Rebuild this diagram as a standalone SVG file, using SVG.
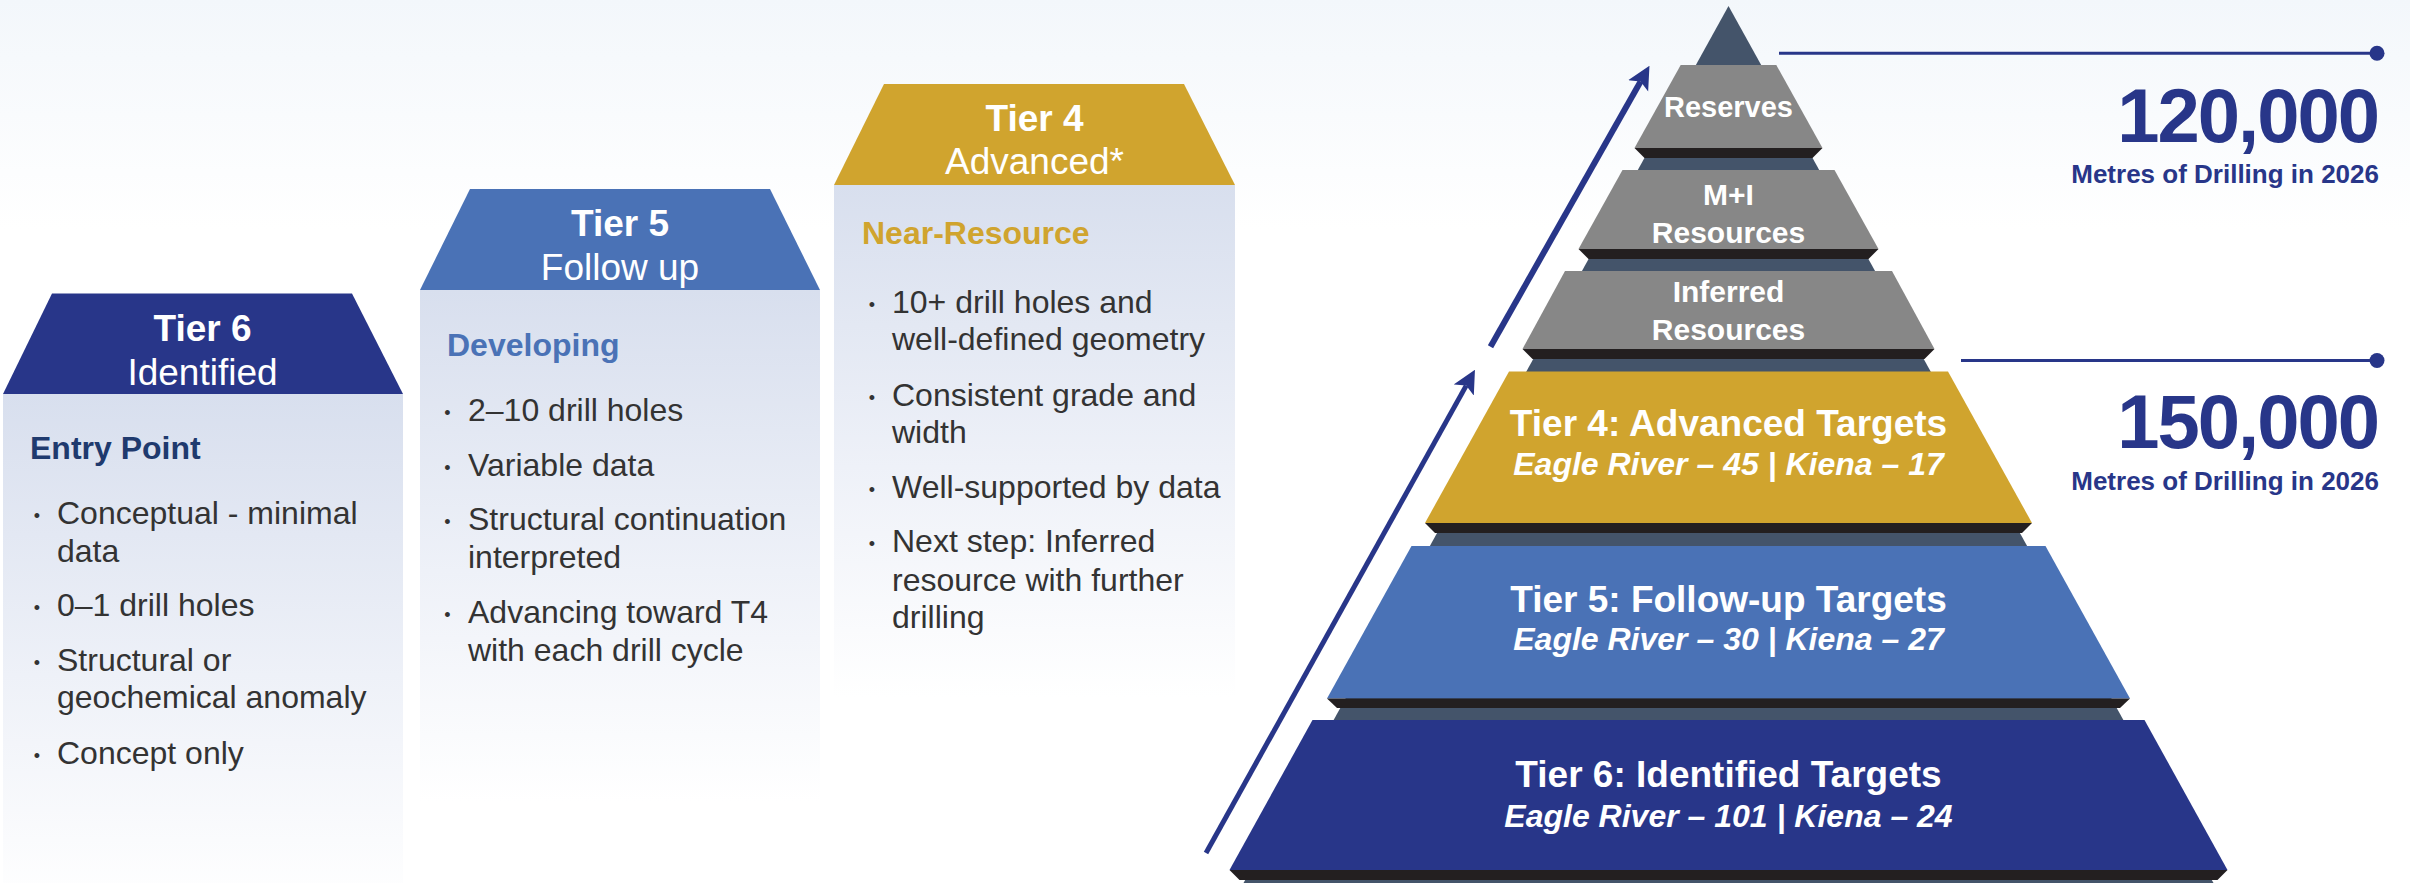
<svg xmlns="http://www.w3.org/2000/svg" width="2410" height="883" viewBox="0 0 2410 883">
<defs>
<linearGradient id="bg" x1="0" y1="0" x2="0" y2="883" gradientUnits="userSpaceOnUse">
<stop offset="0" stop-color="#f3f7fb"/>
<stop offset="0.26" stop-color="#ffffff"/>
<stop offset="1" stop-color="#ffffff"/>
</linearGradient>
<linearGradient id="card" x1="0" y1="0" x2="0" y2="1">
<stop offset="0" stop-color="#d8dfee"/>
<stop offset="0.55" stop-color="#eef1f8"/>
<stop offset="1" stop-color="#ffffff"/>
</linearGradient>
<marker id="arr" markerUnits="userSpaceOnUse" viewBox="0 -12 23 24" markerWidth="23" markerHeight="24" refX="5" refY="0" orient="auto">
<path d="M23,0 L0,-11.5 L5,0 L0,11.5 Z" fill="#283689"/>
</marker>
<marker id="dot" markerUnits="userSpaceOnUse" viewBox="-8 -8 16 16" markerWidth="16" markerHeight="16" refX="0" refY="0">
<circle cx="0" cy="0" r="7.5" fill="#283689"/>
</marker>
</defs>
<style>
text{font-family:"Liberation Sans",Arial,Helvetica,sans-serif}
.ttl{font-size:37px;font-weight:bold;fill:#fff;text-anchor:middle}
.sub{font-size:37px;fill:#fff;text-anchor:middle}
.hd{font-size:32px;font-weight:bold}
.li{font-size:32px;fill:#333333}
.bu{font-size:18px;fill:#333333;text-anchor:middle}
.body{fill:url(#card)}
.lay{stroke:none}
.gray{fill:#878787}
.band{fill:#231f20}
.pt{fill:#fff;font-weight:bold;text-anchor:middle}
.pt29{font-size:29px}
.pt30{font-size:30px}
.pt37{font-size:37px}
.pti{font-size:32px;font-style:italic}
.big{font-size:76px;font-weight:bold;fill:#283689;text-anchor:end;letter-spacing:-2px}
.cap{font-size:26px;font-weight:bold;fill:#283689;text-anchor:end}
.conn{stroke:#283689;fill:none}
</style>
<rect x="0" y="0" width="2410" height="883" fill="url(#bg)"/>

<g id="card-tier6">
<rect class="body" x="3" y="394" width="400" height="512"/>
<polygon points="52,293.5 352,293.5 403,394 3,394" fill="#283689"/>
<text class="ttl" x="202.5" y="341">Tier 6</text>
<text class="sub" x="202.5" y="385">Identified</text>
<text class="hd" x="30" y="459" fill="#1f3a6e">Entry Point</text>
<text class="bu" x="37" y="522">•</text>
<text class="li" x="57" y="524">Conceptual - minimal</text>
<text class="li" x="57" y="561.5">data</text>
<text class="bu" x="37" y="614">•</text>
<text class="li" x="57" y="616">0–1 drill holes</text>
<text class="bu" x="37" y="669">•</text>
<text class="li" x="57" y="671">Structural or</text>
<text class="li" x="57" y="708">geochemical anomaly</text>
<text class="bu" x="37" y="761.5">•</text>
<text class="li" x="57" y="763.5">Concept only</text>
</g>

<g id="card-tier5">
<rect class="body" x="420" y="290" width="400" height="512"/>
<polygon points="470,189 770,189 820,290 420,290" fill="#4a72b6"/>
<text class="ttl" x="620" y="236">Tier 5</text>
<text class="sub" x="620" y="280">Follow up</text>
<text class="hd" x="447" y="356" fill="#4a72b6">Developing</text>
<text class="bu" x="447.5" y="418.7">•</text>
<text class="li" x="468" y="420.7">2–10 drill holes</text>
<text class="bu" x="447.5" y="473.7">•</text>
<text class="li" x="468" y="475.7">Variable data</text>
<text class="bu" x="447.5" y="528">•</text>
<text class="li" x="468" y="530">Structural continuation</text>
<text class="li" x="468" y="568">interpreted</text>
<text class="bu" x="447.5" y="621">•</text>
<text class="li" x="468" y="623">Advancing toward T4</text>
<text class="li" x="468" y="660.7">with each drill cycle</text>
</g>

<g id="card-tier4">
<rect class="body" x="834" y="185" width="401" height="512"/>
<polygon points="884,84 1184,84 1235,185 834,185" fill="#d0a42e"/>
<text class="ttl" x="1034.5" y="131">Tier 4</text>
<text class="sub" x="1034.5" y="174">Advanced*</text>
<text class="hd" x="862" y="244" fill="#d0a42e">Near-Resource</text>
<text class="bu" x="872" y="311">•</text>
<text class="li" x="892" y="313">10+ drill holes and</text>
<text class="li" x="892" y="350">well-defined geometry</text>
<text class="bu" x="872" y="403.6">•</text>
<text class="li" x="892" y="405.6">Consistent grade and</text>
<text class="li" x="892" y="443">width</text>
<text class="bu" x="872" y="495.5">•</text>
<text class="li" x="892" y="497.5">Well-supported by data</text>
<text class="bu" x="872" y="550">•</text>
<text class="li" x="892" y="552">Next step: Inferred</text>
<text class="li" x="892" y="590.5">resource with further</text>
<text class="li" x="892" y="627.6">drilling</text>
</g>

<g id="pyramid-core">
<polygon points="1728.5,6 2213.5,883 1243.5,883" fill="#44546a"/>
</g>

<g id="layer-reserves">
<polygon class="gray" points="1680.7,65 1776.3,65 1822.5,148 1634.5,148"/>
<polygon class="band" points="1634.5,148 1822.5,148 1812.5,158 1644.5,158"/>
<text class="pt pt29" x="1728.5" y="117">Reserves</text>
</g>

<g id="layer-mi">
<polygon class="gray" points="1622.5,170 1834.5,170 1878.5,249 1578.5,249"/>
<polygon class="band" points="1578.5,249 1878.5,249 1868.5,259 1588.5,259"/>
<text class="pt pt30" x="1728.5" y="205">M+I</text>
<text class="pt pt30" x="1728.5" y="243">Resources</text>
</g>

<g id="layer-inferred">
<polygon class="gray" points="1565,271 1892,271 1934.5,349 1522.5,349"/>
<polygon class="band" points="1522.5,349 1934.5,349 1924.5,359 1532.5,359"/>
<text class="pt pt30" x="1728.5" y="301.5">Inferred</text>
<text class="pt pt30" x="1728.5" y="339.5">Resources</text>
</g>

<g id="layer-tier4">
<polygon points="1509,371.5 1948,371.5 2032,523 1425,523" fill="#d0a42e"/>
<polygon class="band" points="1425,523 2032,523 2022,533 1435,533"/>
<text class="pt pt37" x="1728.5" y="436">Tier 4: Advanced Targets</text>
<text class="pt pti" x="1728.5" y="475">Eagle River – 45 | Kiena – 17</text>
</g>

<g id="layer-tier5">
<polygon points="1411.5,546 2045.5,546 2130,698.6 1327,698.6" fill="#4a72b6"/>
<polygon class="band" points="1327,698.6 2130,698.6 2120,708 1337,708"/>
<text class="pt pt37" x="1728.5" y="612">Tier 5: Follow-up Targets</text>
<text class="pt pti" x="1728.5" y="650">Eagle River – 30 | Kiena – 27</text>
</g>

<g id="layer-tier6">
<polygon points="1312.5,720 2144.5,720 2227.5,870 1229.5,870" fill="#283689"/>
<polygon class="band" points="1229.5,870 2227.5,870 2217.5,880 1239.5,880"/>
<text class="pt pt37" x="1728.5" y="787">Tier 6: Identified Targets</text>
<text class="pt pti" x="1728.5" y="826.5">Eagle River – 101 | Kiena – 24</text>
</g>

<g id="callout-120000">
<text class="big" x="2378" y="141.7">120,000</text>
<text class="cap" x="2379" y="182.7">Metres of Drilling in 2026</text>
</g>

<g id="callout-150000">
<text class="big" x="2378" y="448.3">150,000</text>
<text class="cap" x="2379" y="490">Metres of Drilling in 2026</text>
</g>

<g id="connectors">
<line class="conn" x1="1206" y1="853" x2="1466.2" y2="385.6" stroke-width="5" marker-end="url(#arr)"/>
<line class="conn" x1="1490.5" y1="346.7" x2="1640.6" y2="81.5" stroke-width="6" marker-end="url(#arr)"/>
<line class="conn" x1="1779" y1="53.3" x2="2377" y2="53.3" stroke-width="3" marker-end="url(#dot)"/>
<line class="conn" x1="1961" y1="360.5" x2="2377" y2="360.5" stroke-width="3" marker-end="url(#dot)"/>
</g>
</svg>
